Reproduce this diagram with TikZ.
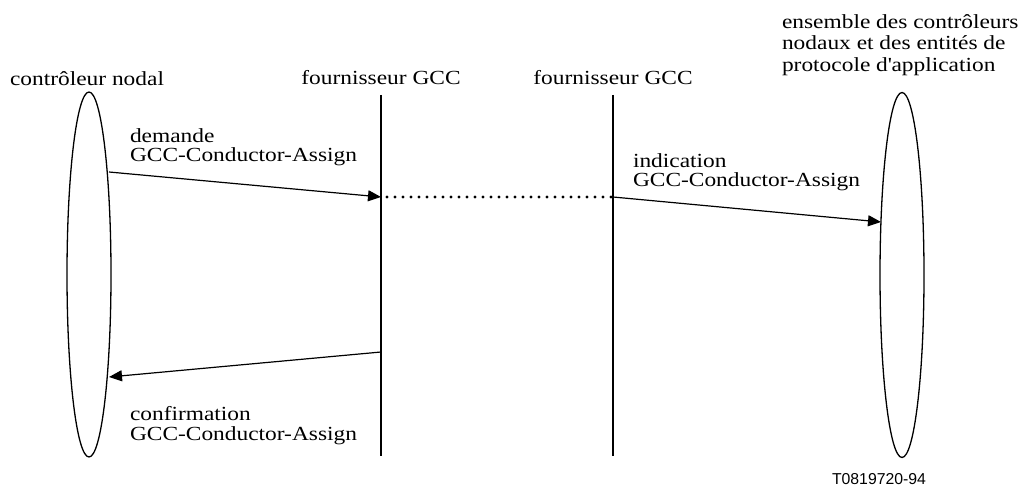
\documentclass[tikz,border=0pt]{standalone}
\usepackage{fontspec}
\setmainfont[FakeStretch=1.17]{Liberation Serif}
\newfontfamily\codefont{Liberation Sans}
\usetikzlibrary{arrows.meta,shapes.geometric}
\begin{document}
\begin{tikzpicture}[x=1pt,y=-1pt,
  every node/.style={inner sep=0pt, outer sep=0pt},
  txt/.style={font=\fontsize{20}{19.5}\selectfont, align=left},
  party/.style={draw, ellipse, line width=1.3pt, minimum width=44pt, minimum height=365pt},
  lifeline/.style={line width=2pt},
  msg/.style={line width=1.2pt, -{Triangle[length=13pt,width=11pt]}},
  relay/.style={line width=3.2pt, dash pattern=on 0pt off 8pt, line cap=round}
]
\fill[white] (0,0) rectangle (1024,486);
\useasboundingbox (0,0) rectangle (1024,486);

% parties at both ends
\node[party] (L) at (89,274.5) {};
\node[party] (R) at (902,275) {};

% GCC provider lifelines
\coordinate (g1top) at (381,95);
\coordinate (g1bot) at (381,456);
\coordinate (g2top) at (613,95);
\coordinate (g2bot) at (613,456);
\draw[lifeline] (g1top) -- (g1bot);
\draw[lifeline] (g2top) -- (g2bot);

% headings (base anchor = baseline of the last line)
\node[txt, anchor=base west] (hL) at (10,86) {contrôleur nodal};
\node[txt, anchor=base] (hG1) at (381,85) {fournisseur GCC};
\node[txt, anchor=base] (hG2) at (613,85) {fournisseur GCC};
\node[txt, font=\fontsize{20}{21.5}\selectfont, anchor=base west] (hR) at (782,71.5)
  {ensemble des contrôleurs\\nodaux et des entités de\\protocole d\textquotesingle application};

% message end points
\coordinate (m1s) at (109,172);
\coordinate (m1e) at (381,197);
\coordinate (m2s) at (613,197);
\coordinate (m2e) at (881,222);
\coordinate (m3s) at (381,352);
\coordinate (m3e) at (109,377);

% primitives
\draw[msg] (m1s) -- (m1e);
\draw[relay] ([xshift=6pt]m1e) -- ([xshift=-2pt]m2s);
\draw[msg] (m2s) -- (m2e);
\draw[msg] (m3s) -- (m3e);

% primitive labels
\node[txt, anchor=base west] (t1) at (130,162) {demande\\GCC-Conductor-Assign};
\node[txt, anchor=base west] (t2) at (633,187) {indication\\GCC-Conductor-Assign};
\node[txt, anchor=base west] (t3) at (130,440) {confirmation\\GCC-Conductor-Assign};

% figure code
\node[font=\codefont\fontsize{15.8}{16}\selectfont, anchor=base west] (code) at (832,484) {T0819720-94};
\end{tikzpicture}
\end{document}
